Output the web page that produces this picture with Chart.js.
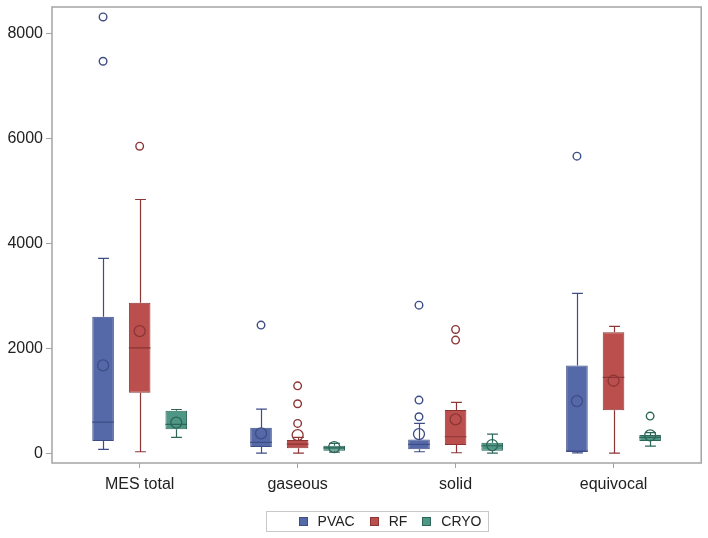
<!DOCTYPE html>
<html>
<head>
<meta charset="utf-8">
<script src="https://cdn.jsdelivr.net/npm/chart.js@4.4.0/dist/chart.umd.min.js"></script>
<style>
  html, body { margin: 0; padding: 0; background: #fff; }
  #wrap { width: 708px; height: 538px; }
</style>
</head>
<body>
<div id="wrap"><canvas id="myChart" width="708" height="538"></canvas></div>
<script>
var categories = ['MES total', 'gaseous', 'solid', 'equivocal'];
var seriesNames = ['PVAC', 'RF', 'CRYO'];
var yTicks = [0, 2000, 4000, 6000, 8000];

// PVAC
var pvacLow    = [80, 10, 34, 12];
var pvacQ1     = [238, 124, 80, 30];
var pvacMedian = [600, 213, 175, 45];
var pvacQ3     = [2606, 491, 270, 1680];
var pvacHigh   = [3718, 848, 575, 3051];
var pvacMean   = [1680, 385, 371, 1000];
var pvacOut    = [[8320, 7476], [2448], [2828, 1019, 701], [5667]];

// RF
var rfLow    = [34, 10, 15, 10];
var rfQ1     = [1158, 99, 162, 823];
var rfMedian = [2015, 181, 320, 1451];
var rfQ3     = [2872, 257, 829, 2314];
var rfHigh   = [4842, 308, 975, 2423];
var rfMean   = [2333, 352, 651, 1387];
var rfOut    = [[5857], [1291, 949, 575], [2365, 2162], []];

// CRYO
var cryoLow    = [309, 29, 10, 143];
var cryoQ1     = [461, 53, 53, 238];
var cryoMedian = [556, 110, 149, 308];
var cryoQ3     = [815, 149, 206, 352];
var cryoHigh   = [840, 194, 371, 400];
var cryoMean   = [590, 124, 162, 345];
var cryoOut    = [[], [], [], [714]];

var stats = [
    { low: pvacLow, q1: pvacQ1, med: pvacMedian, q3: pvacQ3, high: pvacHigh, mean: pvacMean, out: pvacOut },
    { low: rfLow, q1: rfQ1, med: rfMedian, q3: rfQ3, high: rfHigh, mean: rfMean, out: rfOut },
    { low: cryoLow, q1: cryoQ1, med: cryoMedian, q3: cryoQ3, high: cryoHigh, mean: cryoMean, out: cryoOut }
];

var fills = ['#5568a8', '#bb4f4d', '#4e9686'];
var lines = ['#3d4d86', '#8c3535', '#2c6657'];

var catPct = 0.695;
var barPct = 0.59;
var offsets = [-catPct / 3, 0, catPct / 3];

var datasets = [];
stats.forEach(function (s, k) {
    datasets.push({
        type: 'bar',
        label: seriesNames[k],
        data: categories.map(function (c, i) { return { x: i, y: [s.q1[i], s.q3[i]] }; }),
        backgroundColor: fills[k],
        borderColor: lines[k],
        borderWidth: 1,
        borderSkipped: false,
        categoryPercentage: catPct,
        barPercentage: barPct,
        order: 3,
        statsIndex: k
    });
});
stats.forEach(function (s, k) {
    datasets.push({
        type: 'scatter',
        label: seriesNames[k] + ' mean',
        data: s.mean.map(function (v, i) { return { x: i + offsets[k], y: v }; }),
        pointStyle: 'circle',
        pointRadius: 5.5,
        pointBorderWidth: 1.3,
        pointBorderColor: lines[k],
        pointBackgroundColor: 'rgba(0,0,0,0)',
        order: 1
    });
    var pts = [];
    s.out.forEach(function (arr, i) {
        arr.forEach(function (v) { pts.push({ x: i + offsets[k], y: v }); });
    });
    datasets.push({
        type: 'scatter',
        label: seriesNames[k] + ' outliers',
        data: pts,
        pointStyle: 'circle',
        pointRadius: 3.8,
        pointBorderWidth: 1.4,
        pointBorderColor: lines[k],
        pointBackgroundColor: '#fff',
        order: 1
    });
});

var boxPlugin = {
    id: 'boxParts',
    beforeDatasetsDraw: function (chart) {
        var a = chart.chartArea, ctx = chart.ctx;
        ctx.save();
        ctx.strokeStyle = '#a4a4a4';
        ctx.lineWidth = 1.5;
        ctx.strokeRect(a.left, a.top, a.right - a.left, a.bottom - a.top);
        ctx.restore();
    },
    afterDatasetDraw: function (chart, args) {
        var ds = chart.data.datasets[args.index];
        if (ds.type !== 'bar') return;
        var s = stats[ds.statsIndex];
        var y = chart.scales.y, ctx = chart.ctx;
        ctx.save();
        ctx.strokeStyle = lines[ds.statsIndex];
        ctx.lineWidth = 1.2;
        args.meta.data.forEach(function (el, i) {
            var x = Math.round(el.x) + 0.5, w = el.width;
            var cap = w * 0.5;
            var pHigh = y.getPixelForValue(s.high[i]);
            var pQ3 = y.getPixelForValue(s.q3[i]);
            var pQ1 = y.getPixelForValue(s.q1[i]);
            var pLow = y.getPixelForValue(s.low[i]);
            var pMed = y.getPixelForValue(s.med[i]);
            ctx.beginPath();
            ctx.moveTo(x, pQ3); ctx.lineTo(x, pHigh);
            ctx.moveTo(x - cap / 2, pHigh); ctx.lineTo(x + cap / 2, pHigh);
            ctx.moveTo(x, pQ1); ctx.lineTo(x, pLow);
            ctx.moveTo(x - cap / 2, pLow); ctx.lineTo(x + cap / 2, pLow);
            ctx.moveTo(el.x - w / 2, pMed); ctx.lineTo(el.x + w / 2, pMed);
            ctx.stroke();
        });
        ctx.restore();
    },
    afterDraw: function (chart) {
        var ctx = chart.ctx, a = chart.chartArea;
        var cx = (a.left + a.right) / 2;
        var left = Math.round(cx - 111) + 0.5, right = Math.round(cx + 111) + 0.5;
        var top = 511.5, bottom = 531.5;
        ctx.save();
        ctx.strokeStyle = '#c8c8c8';
        ctx.lineWidth = 1;
        ctx.strokeRect(left, top, right - left, bottom - top);
        ctx.font = '14px "Liberation Sans", Arial, sans-serif';
        ctx.textBaseline = 'middle';
        // lay items out from the right edge
        var xr = right - 7;
        var pos = [];
        for (var k = seriesNames.length - 1; k >= 0; k--) {
            var tw = ctx.measureText(seriesNames[k]).width;
            var tx = xr - tw;
            var sx = tx - 10 - 9;
            pos[k] = { tx: tx, sx: sx };
            xr = sx - 15;
        }
        seriesNames.forEach(function (name, k) {
            ctx.fillStyle = fills[k];
            ctx.fillRect(Math.round(pos[k].sx), 517, 9, 9);
            ctx.strokeStyle = lines[k];
            ctx.strokeRect(Math.round(pos[k].sx) + 0.5, 517.5, 8, 8);
            ctx.fillStyle = '#222';
            ctx.fillText(name, pos[k].tx, 522);
        });
        ctx.restore();
    }
};

var ctx = document.getElementById('myChart').getContext('2d');
var myChart = new Chart(ctx, {
    type: 'bar',
    data: { datasets: datasets },
    options: {
        responsive: false,
        animation: false,
        devicePixelRatio: 1,
        layout: { padding: { top: 7, right: 5, left: 0, bottom: 0 } },
        plugins: {
            legend: { display: false },
            tooltip: { enabled: false }
        },
        scales: {
            x: {
                type: 'linear',
                offset: false,
                min: -0.555,
                max: 3.555,
                afterBuildTicks: function (scale) {
                    scale.ticks = categories.map(function (c, i) { return { value: i }; });
                },
                afterFit: function (scale) {
                    scale.height = 75;
                    scale.paddingLeft = 0; scale.paddingRight = 0;
                },
                grid: { display: true, offset: false, drawOnChartArea: false, tickLength: 5, color: '#a4a4a4' },
                border: { display: false },
                ticks: {
                    autoSkip: false,
                    maxRotation: 0,
                    padding: 7,
                    color: '#222',
                    font: { family: '"Liberation Sans", Arial, sans-serif', size: 16 },
                    callback: function (v) { return categories[v]; }
                }
            },
            y: {
                type: 'linear',
                min: -180,
                max: 8510,
                afterBuildTicks: function (scale) {
                    scale.ticks = yTicks.map(function (v) { return { value: v }; });
                },
                afterFit: function (scale) {
                    scale.width = 52;
                    scale.paddingTop = 0; scale.paddingBottom = 0;
                },
                grid: { display: true, drawOnChartArea: false, tickLength: 6, color: '#a4a4a4' },
                border: { display: false },
                ticks: {
                    padding: 3,
                    color: '#222',
                    font: { family: '"Liberation Sans", Arial, sans-serif', size: 16 },
                    callback: function (v) { return String(v); }
                }
            }
        }
    },
    plugins: [boxPlugin]
});
</script>
</body>
</html>
